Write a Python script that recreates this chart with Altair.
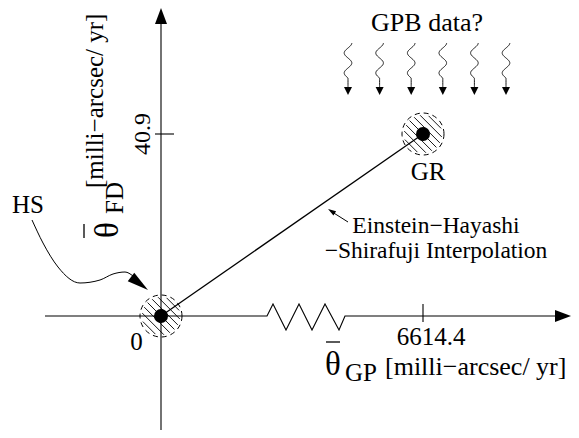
import altair as alt
import pandas as pd
import numpy as np

# ---------------- data ----------------
point_names = ["HS", "GR"]
theta_gp = [0.0, 6614.4]        # milli-arcsec / yr
theta_fd = [0.0, 40.9]          # milli-arcsec / yr
x_tick_values = [6614.4]
x_tick_labels = ["6614.4"]
y_tick_values = [40.9]
y_tick_labels = ["40.9"]
origin_label = "0"
top_text = "GPB data?"
interp_text = ["Einstein\u2212Hayashi", "\u2212Shirafuji Interpolation"]
x_title = ["\u03b8", "GP", "[milli\u2212arcsec/ yr]"]
y_title = ["\u03b8", "FD", "[milli\u2212arcsec/ yr]"]
n_arrows = 6

# ------------- layout (page pixels) -------------
W, H = 563, 422
OX, OY = 161.0, 316.0           # pixel position of the origin
SX = 262.0 / 6614.4             # px per unit along theta_GP
SY = 182.0 / 40.9               # px per unit along theta_FD


def to_x(px):
    return (px - OX) / SX


def to_y(py):
    return (OY - py) / SY


def px_x(v):
    return OX + v * SX


def px_y(v):
    return OY - v * SY


XS = alt.Scale(domain=[to_x(8), to_x(8 + W)], nice=False, zero=False)
YS = alt.Scale(domain=[to_y(8 + H), to_y(8)], nice=False, zero=False)
FONT = "Liberation Serif"


def base(df):
    return alt.Chart(df).encode(
        x=alt.X("x:Q", scale=XS, axis=None),
        y=alt.Y("y:Q", scale=YS, axis=None),
    )


def polylines(paths):
    rows = []
    for g, pts in enumerate(paths):
        for i, (px, py) in enumerate(pts):
            rows.append({"g": g, "i": i, "x": to_x(px), "y": to_y(py)})
    return pd.DataFrame(rows)


def line_layer(paths, width=1.0, interp="linear", dash=None):
    kw = dict(color="black", strokeWidth=width, interpolate=interp)
    if dash:
        kw["strokeDash"] = dash
    return base(polylines(paths)).mark_line(**kw).encode(
        detail="g:N", order="i:Q")


def heads(items, shape):
    df = pd.DataFrame([{"x": to_x(px), "y": to_y(py), "s": s, "a": a}
                       for px, py, s, a in items])
    return base(df).mark_point(shape=shape, filled=True, color="black",
                               opacity=1, strokeWidth=0).encode(
        size=alt.Size("s:Q", scale=None, legend=None),
        angle=alt.Angle("a:Q", scale=None, legend=None))


def text_layer(px, py, txt, size, align="center", angle=0, baseline="alphabetic"):
    df = pd.DataFrame({"x": [to_x(px)], "y": [to_y(py)], "t": [txt]})
    kw = dict(font=FONT, fontSize=size, align=align, baseline=baseline,
              color="black")
    if angle:
        kw["angle"] = angle
    return base(df).mark_text(**kw).encode(text="t:N")


AXIS_HEAD = "M0,-1L0.75,1L-0.75,1Z"
UP_SLIM = "M0,-1L0.5,1L-0.5,1Z"
DOWN = "M-1,-1L1,-1L0,1Z"

layers = []

# ---- axes with break ----
zig = [(267, OY), (273, 304), (286, 330), (299, 304), (312, 330),
       (325, 304), (339, 330), (345, OY)]
layers.append(line_layer([[(OX, 433), (OX, 20)],
                          [(45, OY)] + zig + [(558, OY)]], width=1.1))
layers.append(heads([(OX, 16, 256, 0), (W, OY, 256, 90)], AXIS_HEAD))

# ---- ticks ----
tick_paths = []
for v in x_tick_values:
    tick_paths.append([(px_x(v), 304), (px_x(v), 322)])
for v in y_tick_values:
    tick_paths.append([(155, px_y(v)), (174, px_y(v))])
layers.append(line_layer(tick_paths, width=1.1))

# ---- interpolation line between HS and GR ----
pts_df = pd.DataFrame({"name": point_names, "x": theta_gp, "y": theta_fd})
layers.append(base(pts_df).mark_line(color="black", strokeWidth=1.3))

# ---- hatched dashed circles ----
hatch_paths = []
d = np.array([1.0, 1.0]) / np.sqrt(2)
nv = np.array([1.0, -1.0]) / np.sqrt(2)
for gx, gy in zip(theta_gp, theta_fd):
    c = np.array([px_x(gx), px_y(gy)])
    r = 19.0
    for k in range(-3, 4):
        s = k * 5.6
        L = np.sqrt(r * r - s * s)
        p1 = c + s * nv - L * d
        p2 = c + s * nv + L * d
        hatch_paths.append([tuple(p1), tuple(p2)])
layers.append(line_layer(hatch_paths, width=0.9))
layers.append(base(pts_df).mark_point(shape="circle", filled=False, size=1764,
                                      color="black", opacity=1, strokeWidth=1,
                                      strokeDash=[5, 4]))
layers.append(base(pts_df).mark_point(shape="circle", filled=True, size=196,
                                      color="black", opacity=1))

# ---- wavy "GPB data?" arrows ----
wave_cx = px_x(theta_gp[1]) + 4
wave_paths, wave_heads = [], []
for k in range(n_arrows):
    cx = wave_cx + (k - (n_arrows - 1) / 2) * 31.6
    ys = np.arange(43, 78.01, 0.5)
    pts = [(cx - 3.8 * np.sin(2 * np.pi * (yy - 48) / 20), yy) for yy in ys]
    pts.append((cx, 87))
    wave_paths.append(pts)
    wave_heads.append((cx, 91, 64, 0))
layers.append(line_layer(wave_paths, width=0.9, interp="monotone"))
layers.append(heads(wave_heads, DOWN))

# ---- HS pointer ----
hs_curve = [(32, 220), (43, 243), (58, 267), (80, 283), (100, 280),
            (113, 274), (125, 272), (133, 276)]
layers.append(line_layer([hs_curve], width=1.0, interp="monotone"))
layers.append(heads([(139.5, 283.5, 458, 127.4)], UP_SLIM))

# ---- interpolation pointer ----
layers.append(line_layer([[(348, 222), (333, 212.5)]], width=1.0))
layers.append(heads([(331.4, 211.2, 64, 303)], "M0,-1L0.6,1L-0.6,1Z"))

# ---- macrons over theta ----
layers.append(line_layer([[(326, 342), (340, 342)], [(84, 224), (84, 238)]],
                         width=1.3))

# ---- texts ----
layers.append(text_layer(136.5, 350, origin_label, 25))
for v, lab in zip(x_tick_values, x_tick_labels):
    layers.append(text_layer(px_x(v) + 8, 345, lab, 25))
for v, lab in zip(y_tick_values, y_tick_labels):
    layers.append(text_layer(150, px_y(v), lab, 24, angle=270))
layers.append(text_layer(427, 31, top_text, 26))
layers.append(text_layer(428, 180, point_names[1], 25))
layers.append(text_layer(28, 213, point_names[0], 25))
layers.append(text_layer(436, 233, interp_text[0], 23.5))
layers.append(text_layer(436, 258, interp_text[1], 23.5))
# x title
layers.append(text_layer(325, 375, x_title[0], 33, align="left"))
layers.append(text_layer(345, 381, x_title[1], 25, align="left"))
layers.append(text_layer(385, 375, x_title[2], 26, align="left"))
# y title (rotated)
layers.append(text_layer(118, 238, y_title[0], 33, align="left", angle=270))
layers.append(text_layer(123, 214, y_title[1], 25, align="left", angle=270))
layers.append(text_layer(103, 188, y_title[2], 25, align="left", angle=270))

chart = alt.layer(*layers).properties(
    width=W, height=H, padding=0,
    autosize=alt.AutoSizeParams(type="none"),
).configure_view(stroke=None)

chart.save("out.html", embed_options={"renderer": "svg", "actions": False})
